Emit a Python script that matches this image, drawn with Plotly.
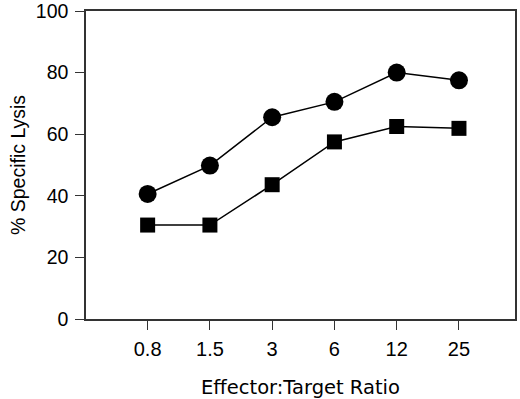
import plotly.graph_objects as go

categories = ["0.8", "1.5", "3", "6", "12", "25"]
circle_values = [40.6, 49.8, 65.5, 70.5, 80.0, 77.5]
square_values = [30.5, 30.5, 43.6, 57.5, 62.5, 61.9]
y_ticks = [0, 20, 40, 60, 80, 100]

fig = go.Figure()
fig.add_trace(go.Scatter(
    x=categories, y=circle_values, mode="lines+markers",
    line=dict(color="black", width=1.5),
    marker=dict(symbol="circle", size=18, color="black"),
    showlegend=False))
fig.add_trace(go.Scatter(
    x=categories, y=square_values, mode="lines+markers",
    line=dict(color="black", width=1.5),
    marker=dict(symbol="square", size=15, color="black"),
    showlegend=False))

font = dict(family="Liberation Sans, Arial, sans-serif", color="black")
axis_common = dict(showline=True, linecolor="#333", linewidth=1.5, mirror=True,
                   ticks="outside", ticklen=9, tickwidth=1.3, tickcolor="#333",
                   showgrid=False, zeroline=False, ticklabeloverflow="allow")

fig.update_layout(
    width=520, height=399,
    margin=dict(l=86, r=5, t=11, b=80, autoexpand=False),
    paper_bgcolor="white", plot_bgcolor="white",
    font=font,
    xaxis=dict(type="category", range=[-0.99, 5.9],
               tickfont=dict(size=20), ticklabelstandoff=2,
               title=dict(text="Effector:Target Ratio",
                          font=dict(size=19.5, family="DejaVu Sans, sans-serif"),
                          standoff=29),
               **axis_common),
    yaxis=dict(range=[0, 100], tickvals=y_ticks,
               tickfont=dict(size=19.5), ticklabelstandoff=3,
               title=dict(text="% Specific Lysis", font=dict(size=19.5), standoff=5),
               **axis_common),
)
fig.write_html("out.html", config={"displayModeBar": False},
               post_script="document.body.style.margin='0';document.body.style.overflow='hidden';")
